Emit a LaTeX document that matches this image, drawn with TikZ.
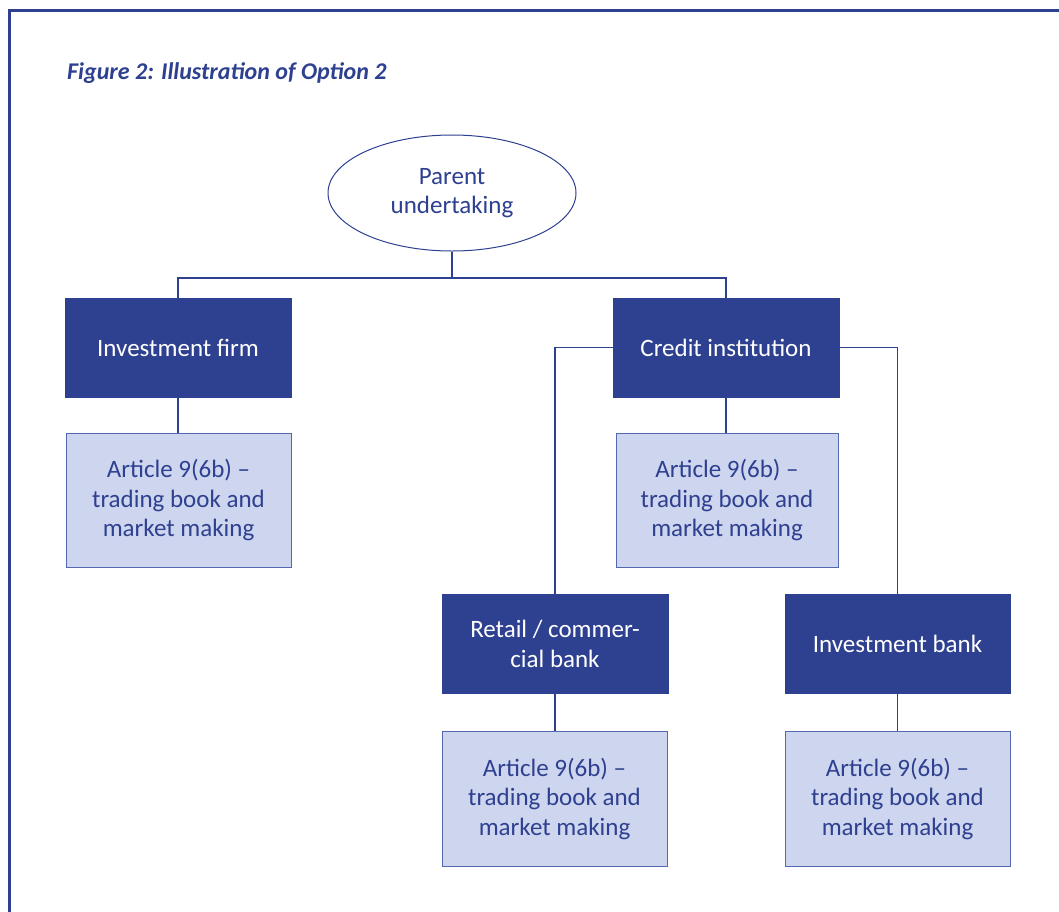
\documentclass[tikz,border=0pt]{standalone}
\usepackage{fontspec}
\setmainfont{Carlito}
\usetikzlibrary{shapes.geometric,calc}
\definecolor{navy}{RGB}{46,64,144}
\definecolor{lightblue}{RGB}{206,213,238}
\definecolor{lightedge}{RGB}{84,104,176}
\tikzset{
  darkbox/.style={rectangle,fill=navy,draw=navy,line width=0.8pt,text=white,minimum width=226pt,minimum height=99pt,inner sep=0pt,align=center,font=\fontsize{25}{29.5}\selectfont},
  artbox/.style={rectangle,fill=lightblue,draw=lightedge,line width=1pt,text=navy,minimum width=225pt,minimum height=134pt,inner sep=0pt,align=center,font=\fontsize{25}{29.5}\selectfont},
  conn/.style={draw=navy,line width=1.8pt},
}
\begin{document}
\begin{tikzpicture}[x=1pt,y=-1pt]
\useasboundingbox (0,0) rectangle (1059,911);
\fill[white] (0,0) rectangle (1059,911);
% frame
\draw[navy,line width=3pt] (9,950) -- (9,10) -- (1100,10);
% title
\node[anchor=base west,inner sep=0pt,text=navy,font=\fontsize{24}{28}\selectfont\bfseries\itshape] (title) at (67,79) {Figure 2: Illustration of Option 2};
% parent
\node[ellipse,draw=navy,line width=1pt,minimum width=248pt,minimum height=116pt,inner sep=0pt,align=center,text=navy,font=\fontsize{25}{29.5}\selectfont] (parent) at (452,193) {Parent\\undertaking};
% first level
\node[darkbox] (if) at (178,347.5) {Investment firm};
\node[darkbox] (ci) at (726,347.5) {Credit institution};
\node[artbox] (ifa) at (178.5,500) {Article 9(6b) --\\trading book and\\market making};
\node[artbox,minimum width=222pt] (cia) at (727,500) {Article 9(6b) --\\trading book and\\market making};
% second level
\node[darkbox] (rb) at (555,644) {Retail / commer-\\cial bank};
\node[darkbox,minimum width=225pt] (ib) at (897.5,644) {Investment bank};
\node[artbox,minimum height=135pt] (rba) at (554.5,798.5) {Article 9(6b) --\\trading book and\\market making};
\node[artbox,minimum height=135pt] (iba) at (897.5,798.5) {Article 9(6b) --\\trading book and\\market making};
% connectors
\coordinate (bus) at (452,278);
\draw[conn] (parent.south) -- (bus);
\draw[conn] (if.north) |- (bus) -| (ci.north);
\draw[conn] (if.south) -- (if.south |- ifa.north);
\draw[conn] (ci.south) -- (ci.south |- cia.north);
\draw[conn] (ci.west) -| (rb.north);
\draw[conn] (ci.east) -| (ib.north);
\draw[conn] (rb.south) -- (rb.south |- rba.north);
\draw[conn] (ib.south) -- (ib.south |- iba.north);
\end{tikzpicture}
\end{document}
